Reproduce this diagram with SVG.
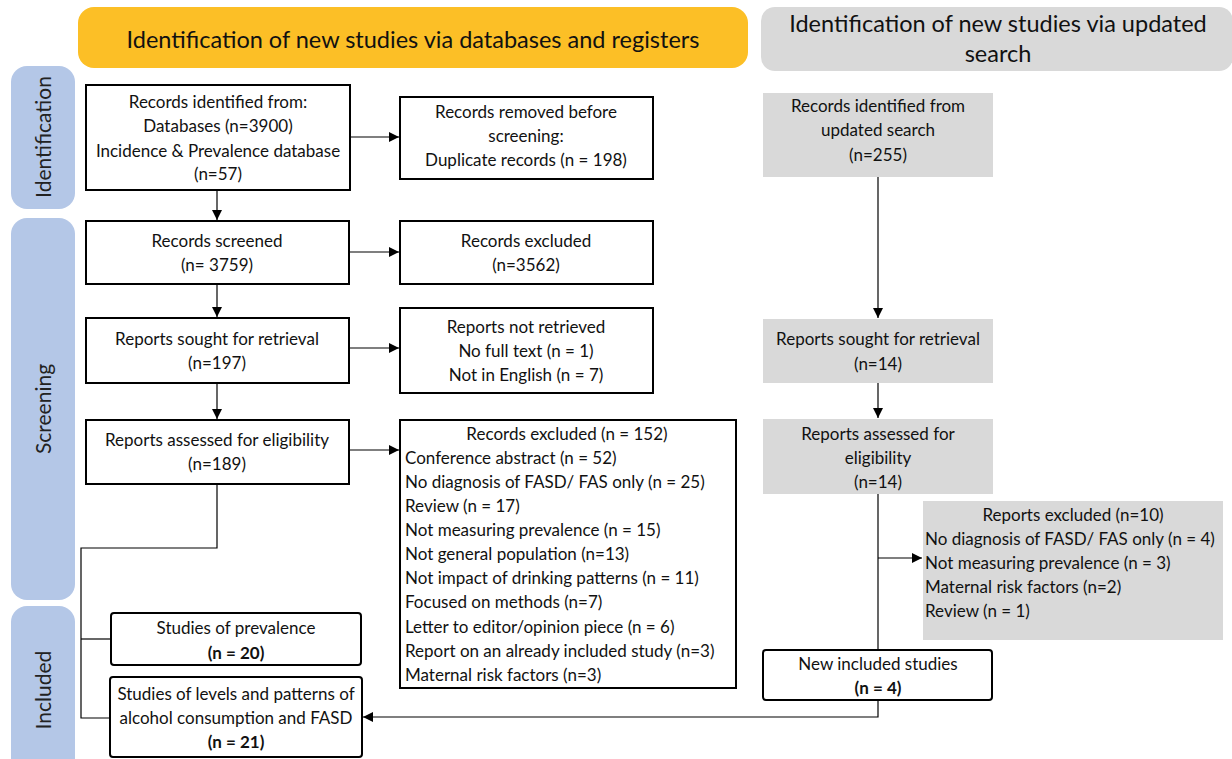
<svg xmlns="http://www.w3.org/2000/svg" width="1232" height="759" viewBox="0 0 1232 759">
<defs>
<marker id="ah" viewBox="0 0 10 10" refX="10" refY="5" markerWidth="10" markerHeight="10" markerUnits="userSpaceOnUse" orient="auto">
<path d="M0,0 L10,5 L0,10 z" fill="#000"/>
</marker>
<style>
text{font-family:Lato,"Open Sans","Liberation Sans",sans-serif;fill:#111;}
.t{font-size:17px;text-anchor:middle;}
.l{font-size:17px;text-anchor:start;}
.b{font-weight:bold;}
.box{fill:#fff;stroke:#000;stroke-width:2;}
.gbox{fill:#d9d9d9;stroke:none;}
.side{fill:#b4c7e7;}
.hdr{font-size:23.5px;text-anchor:middle;}
.sl{font-size:21px;text-anchor:middle;fill:#222;}
.c{fill:none;stroke:#000;stroke-width:1.2;}
.ca{fill:none;stroke:#000;stroke-width:1.2;marker-end:url(#ah);}
</style>
</defs>
<rect width="1232" height="759" fill="#fff"/>

<g id="banner-main">
<rect x="78" y="7" width="670" height="61" rx="16" fill="#fcbf26"/>
<text class="hdr" x="413" y="48">Identification of new studies via databases and registers</text>
</g>
<g id="banner-updated">
<rect x="761" y="7" width="472" height="64" rx="14" fill="#d9d9d9"/>
<text class="hdr" x="998" y="32">Identification of new studies via updated</text>
<text class="hdr" x="998" y="62">search</text>
</g>

<g id="stage-identification">
<rect class="side" x="11" y="66" width="64" height="143" rx="16"/>
<text class="sl" transform="translate(51,137) rotate(-90)">Identification</text>
</g>
<g id="stage-screening">
<rect class="side" x="11" y="218" width="64" height="382" rx="16"/>
<text class="sl" transform="translate(51,409) rotate(-90)">Screening</text>
</g>
<g id="stage-included">
<rect class="side" x="11" y="606" width="64" height="170" rx="16"/>
<text class="sl" transform="translate(51,690) rotate(-90)">Included</text>
</g>

<g id="connectors">
<line class="ca" x1="350" y1="137" x2="399" y2="137"/>
<line class="ca" x1="217" y1="190" x2="217" y2="220"/>
<line class="ca" x1="350" y1="252" x2="399" y2="252"/>
<line class="ca" x1="217" y1="285" x2="217" y2="317"/>
<line class="ca" x1="350" y1="348" x2="399" y2="348"/>
<line class="ca" x1="217" y1="384" x2="217" y2="419"/>
<line class="ca" x1="350" y1="450" x2="399" y2="450"/>
<polyline class="c" points="217,485 217,548 81,548 81,718 110,718"/>
<line class="c" x1="81" y1="639" x2="111" y2="639"/>
<line class="ca" x1="878" y1="177" x2="878" y2="318"/>
<line class="ca" x1="878" y1="383" x2="878" y2="418"/>
<line class="c" x1="878" y1="494" x2="878" y2="650"/>
<line class="ca" x1="878" y1="558" x2="922" y2="558"/>
<polyline class="ca" points="878,700 878,717 363,717"/>
</g>

<g id="n-records-identified">
<rect class="box" x="86" y="85" width="264" height="105"/>
<text class="t" x="218" y="108">Records identified from:</text>
<text class="t" x="218" y="132">Databases (n=3900)</text>
<text class="t" x="218" y="157">Incidence &amp; Prevalence database</text>
<text class="t" x="218" y="180">(n=57)</text>
</g>
<g id="n-records-removed">
<rect class="box" x="400" y="97" width="253" height="82"/>
<text class="t" x="526" y="118">Records removed before</text>
<text class="t" x="526" y="142">screening:</text>
<text class="t" x="526" y="166">Duplicate records (n = 198)</text>
</g>
<g id="n-records-screened">
<rect class="box" x="86" y="221" width="263" height="63"/>
<text class="t" x="217" y="247">Records screened</text>
<text class="t" x="217" y="271">(n= 3759)</text>
</g>
<g id="n-records-excluded">
<rect class="box" x="400" y="221" width="253" height="63"/>
<text class="t" x="526" y="247">Records excluded</text>
<text class="t" x="526" y="271">(n=3562)</text>
</g>
<g id="n-reports-sought">
<rect class="box" x="86" y="318" width="263" height="65"/>
<text class="t" x="217" y="345">Reports sought for retrieval</text>
<text class="t" x="217" y="369">(n=197)</text>
</g>
<g id="n-reports-not-retrieved">
<rect class="box" x="400" y="308" width="253" height="85"/>
<text class="t" x="526" y="333">Reports not retrieved</text>
<text class="t" x="526" y="357">No full text (n = 1)</text>
<text class="t" x="526" y="381">Not in English (n = 7)</text>
</g>
<g id="n-reports-assessed">
<rect class="box" x="86" y="420" width="263" height="64"/>
<text class="t" x="217" y="446">Reports assessed for eligibility</text>
<text class="t" x="217" y="470">(n=189)</text>
</g>
<g id="n-records-excluded-152">
<rect class="box" x="400" y="420" width="336" height="268"/>
<text class="t" x="567" y="440">Records excluded (n = 152)</text>
<text class="l" x="405" y="464">Conference abstract (n = 52)</text>
<text class="l" x="405" y="488">No diagnosis of FASD/ FAS only (n = 25)</text>
<text class="l" x="405" y="512">Review (n = 17)</text>
<text class="l" x="405" y="536">Not measuring prevalence (n = 15)</text>
<text class="l" x="405" y="560">Not general population (n=13)</text>
<text class="l" x="405" y="584">Not impact of drinking patterns (n = 11)</text>
<text class="l" x="405" y="608">Focused on methods (n=7)</text>
<text class="l" x="405" y="633">Letter to editor/opinion piece (n = 6)</text>
<text class="l" x="405" y="657">Report on an already included study (n=3)</text>
<text class="l" x="405" y="681">Maternal risk factors (n=3)</text>
</g>
<g id="n-studies-prevalence">
<rect class="box" x="111" y="613" width="250" height="52" rx="3" stroke-width="1.5"/>
<text class="t" x="236" y="634">Studies of prevalence</text>
<text class="t b" x="236" y="659">(n = 20)</text>
</g>
<g id="n-studies-levels">
<rect class="box" x="110" y="677" width="252" height="80" rx="3" stroke-width="1.5"/>
<text class="t" x="236" y="700">Studies of levels and patterns of</text>
<text class="t" x="236" y="724">alcohol consumption and FASD</text>
<text class="t b" x="236" y="748">(n = 21)</text>
</g>

<g id="n-updated-identified">
<rect class="gbox" x="763" y="93" width="230" height="84"/>
<text class="t" x="878" y="112">Records identified from</text>
<text class="t" x="878" y="136">updated search</text>
<text class="t" x="878" y="161">(n=255)</text>
</g>
<g id="n-updated-sought">
<rect class="gbox" x="763" y="319" width="230" height="64"/>
<text class="t" x="878" y="345">Reports sought for retrieval</text>
<text class="t" x="878" y="370">(n=14)</text>
</g>
<g id="n-updated-assessed">
<rect class="gbox" x="763" y="419" width="230" height="75"/>
<text class="t" x="878" y="440">Reports assessed for</text>
<text class="t" x="878" y="464">eligibility</text>
<text class="t" x="878" y="488">(n=14)</text>
</g>
<g id="n-updated-excluded">
<rect class="gbox" x="923" y="501" width="300" height="139"/>
<text class="t" x="1073" y="521">Reports excluded (n=10)</text>
<text class="l" x="925" y="545">No diagnosis of FASD/ FAS only (n = 4)</text>
<text class="l" x="925" y="569">Not measuring prevalence (n = 3)</text>
<text class="l" x="925" y="593">Maternal risk factors (n=2)</text>
<text class="l" x="925" y="617">Review (n = 1)</text>
</g>
<g id="n-new-included">
<rect class="box" x="763" y="650" width="229" height="50" rx="3" stroke-width="1.5"/>
<text class="t" x="878" y="670">New included studies</text>
<text class="t b" x="878" y="694">(n = 4)</text>
</g>
</svg>
